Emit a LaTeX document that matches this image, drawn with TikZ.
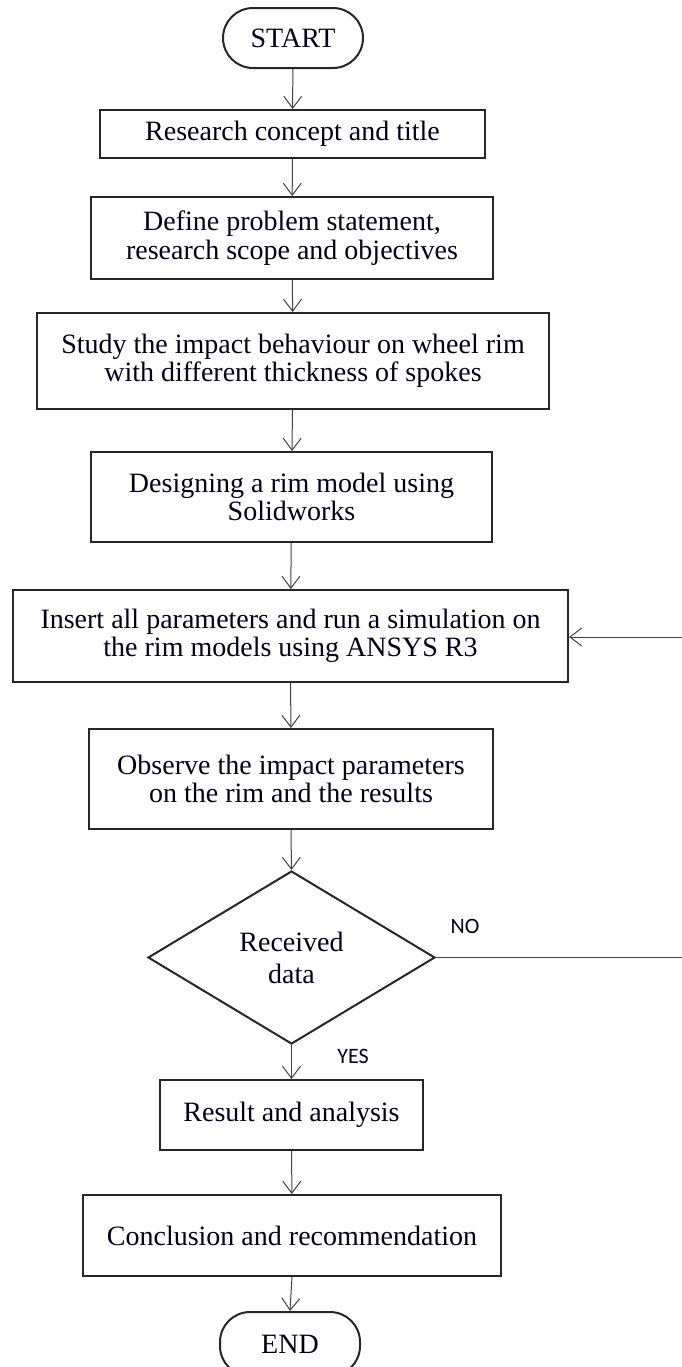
\documentclass[tikz,border=0pt]{standalone}
\usepackage{fontspec}
\setmainfont{Liberation Serif}
\newfontfamily\labfont{Carlito}
\usetikzlibrary{arrows.meta,shapes.geometric}
\begin{document}
\begin{tikzpicture}[x=0.5pt,y=-0.5pt,
  box/.style={draw=black!85, line width=1pt, inner sep=0pt, align=center,
    font=\fontsize{14}{14.2}\selectfont, text=black!90!blue},
  term/.style={box, rounded corners=15pt},
  decision/.style={diamond, draw=black!85, line width=1pt, inner sep=0pt, align=center,
    font=\fontsize{14}{16}\selectfont, text=black!90!blue},
  conn/.style={draw=black!75, line width=0.5pt, -{Straight Barb[length=6pt,width=9pt]}},
  plain/.style={draw=black!75, line width=0.5pt},
  lab/.style={font=\labfont\fontsize{11}{12}\selectfont, text=black!90!blue}
]
\useasboundingbox (0,0) rectangle (681,1367);
\node[term, minimum width=70pt, minimum height=30pt] (start) at (293,38) {START};
\node[box, minimum width=192.5pt, minimum height=24pt] (b1) at (292.5,134) {Research concept and title};
\node[box, minimum width=201pt, minimum height=41pt] (b2) at (292,238) {Define problem statement,\\research scope and objectives};
\node[box, minimum width=256pt, minimum height=48pt] (b3) at (293,361) {Study the impact behaviour on wheel rim\\with different thickness of spokes};
\node[box, minimum width=200.5pt, minimum height=45pt] (b4) at (291.5,497) {Designing a rim model using\\Solidworks};
\node[box, minimum width=277.5pt, minimum height=46pt] (b5) at (290.5,636) {Insert all parameters and run a simulation on\\the rim models using ANSYS R3};
\node[box, minimum width=202pt, minimum height=50pt] (b6) at (291,779) {Observe the impact parameters\\on the rim and the results};
\node[decision, minimum width=143.5pt, minimum height=86.5pt] (dec) at (291.5,957.5) {Received\\data};
\node[box, minimum width=131.5pt, minimum height=35pt] (b7) at (291.5,1115) {Result and analysis};
\node[box, minimum width=209pt, minimum height=40.5pt] (b8) at (292,1235.5) {Conclusion and recommendation};
\node[term, minimum width=70pt, minimum height=32pt] (end) at (290,1344) {END};
\node[lab] (no) at (465,926) {NO};
\node[lab] (yes) at (353,1056) {YES};
\coordinate (r1) at (690,957.5);
\coordinate (r2) at (690,637);
\draw[conn] (start) -- (b1);
\draw[conn] (b1) -- (b2);
\draw[conn] (b2) -- (b3);
\draw[conn] (b3) -- (b4);
\draw[conn] (b4) -- (b5);
\draw[conn] (b5.south) -- (b6.north);
\draw[conn] (b6.south) -- (dec.north);
\draw[conn] (dec.south) -- (b7.north);
\draw[conn] (b7) -- (b8);
\draw[conn] (b8.south) -- (end.north);
\draw[plain] (dec.east) -- (r1);
\draw[conn] (r2) -- (b5.east |- r2);
\end{tikzpicture}
\end{document}
